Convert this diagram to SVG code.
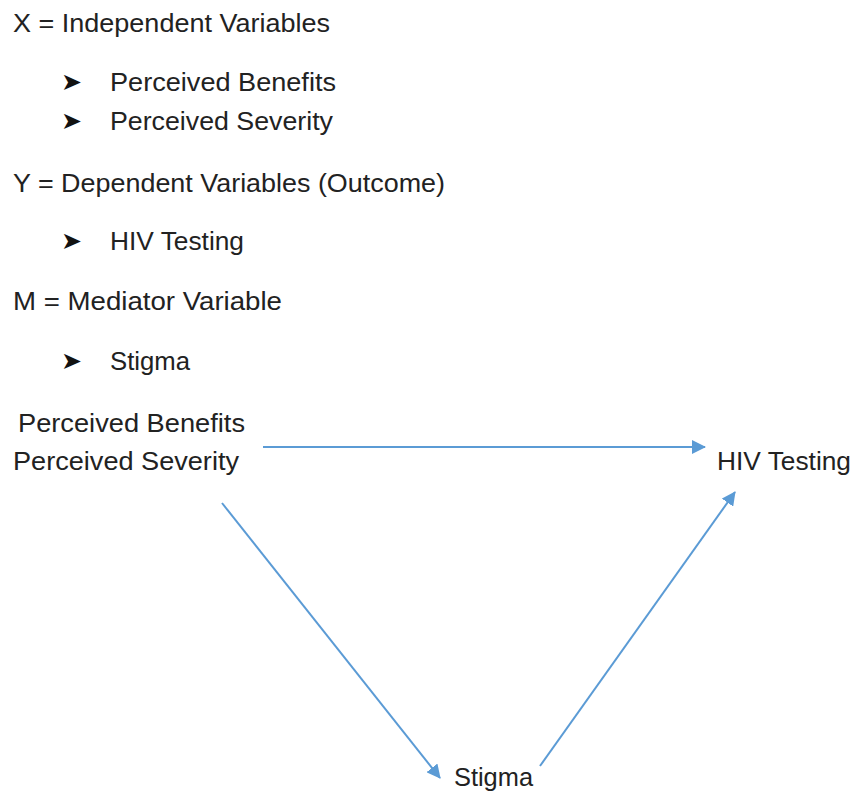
<svg xmlns="http://www.w3.org/2000/svg" width="858" height="792" viewBox="0 0 858 792">
<style>
text{font-family:"Liberation Sans","DejaVu Sans",sans-serif;font-size:25px;fill:#222}
.b{font-family:"DejaVu Sans",sans-serif;font-size:24px;fill:#111}
.c{stroke:#5b9bd5;stroke-width:2;fill:none;marker-end:url(#ah)}
</style>
<defs>
<marker id="ah" viewBox="0 0 14 14" refX="13" refY="7" markerWidth="14" markerHeight="14" markerUnits="userSpaceOnUse" orient="auto">
<path d="M0,0 L14,7 L0,14 Z" fill="#5b9bd5"/>
</marker>
</defs>
<rect width="858" height="792" fill="#fff"/>
<g id="legend">
<text x="13" y="32" textLength="317" lengthAdjust="spacingAndGlyphs">X = Independent Variables</text>
<text class="b" x="61" y="90" textLength="21" lengthAdjust="spacingAndGlyphs">➤</text>
<text x="110" y="91" textLength="226" lengthAdjust="spacingAndGlyphs">Perceived Benefits</text>
<text class="b" x="61" y="129" textLength="21" lengthAdjust="spacingAndGlyphs">➤</text>
<text x="110" y="130" textLength="223" lengthAdjust="spacingAndGlyphs">Perceived Severity</text>
<text x="13" y="192" textLength="432" lengthAdjust="spacingAndGlyphs">Y = Dependent Variables (Outcome)</text>
<text class="b" x="61" y="249" textLength="21" lengthAdjust="spacingAndGlyphs">➤</text>
<text x="110" y="250" textLength="134" lengthAdjust="spacingAndGlyphs">HIV Testing</text>
<text x="13" y="310" textLength="269" lengthAdjust="spacingAndGlyphs">M = Mediator Variable</text>
<text class="b" x="61" y="369" textLength="21" lengthAdjust="spacingAndGlyphs">➤</text>
<text x="110" y="370" textLength="80" lengthAdjust="spacingAndGlyphs">Stigma</text>
</g>
<g id="x-node">
<text x="18" y="432" textLength="227" lengthAdjust="spacingAndGlyphs">Perceived Benefits</text>
<text x="13" y="470" textLength="226" lengthAdjust="spacingAndGlyphs">Perceived Severity</text>
</g>
<g id="y-node">
<text x="717" y="470" textLength="134" lengthAdjust="spacingAndGlyphs">HIV Testing</text>
</g>
<g id="m-node">
<text x="454" y="786" textLength="79" lengthAdjust="spacingAndGlyphs">Stigma</text>
</g>
<g id="connectors">
<line class="c" x1="263" y1="447" x2="705" y2="447"/>
<line class="c" x1="222" y1="503" x2="440" y2="778"/>
<line class="c" x1="540" y1="766" x2="735" y2="492"/>
</g>
</svg>
